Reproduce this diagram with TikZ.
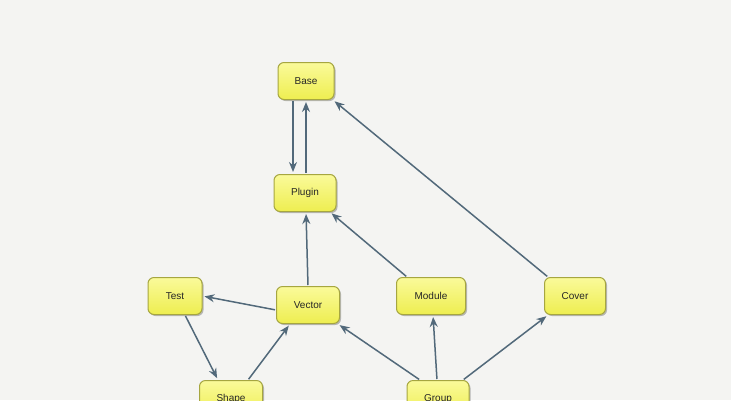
\documentclass[tikz,border=0pt]{standalone}
\usepackage{fontspec}
\setmainfont{Liberation Sans}
\usetikzlibrary{arrows.meta,shadows}
\definecolor{bg}{HTML}{F4F4F2}
\definecolor{nodetop}{HTML}{FAFA9A}
\definecolor{nodebot}{HTML}{EEEE50}
\definecolor{nodeborder}{HTML}{A6A640}
\definecolor{edgec}{HTML}{52697A}
\tikzset{
  box/.style={draw=nodeborder, line width=1pt, rounded corners=6pt,
    top color=nodetop, bottom color=nodebot, minimum height=37pt,
    inner sep=0pt, font=\fontsize{10}{12}\selectfont, text=black!85,
    drop shadow={shadow xshift=1.5pt, shadow yshift=-1.5pt, opacity=0.25, fill=black}},
  conn/.style={draw=edgec, line width=1.5pt, -{Stealth[length=10pt,width=8pt]}, shorten >=2pt, shorten <=1pt}
}
\begin{document}
\begin{tikzpicture}[x=1pt,y=-1pt]
\fill[bg] (0,0) rectangle (731,400);
\useasboundingbox (0,0) rectangle (731,400);
\node[box, minimum width=56pt] (base) at (306,81) {Base};
\node[box, minimum width=62pt] (plugin) at (305,193) {Plugin};
\node[box, minimum width=54pt] (test) at (175,296) {Test};
\node[box, minimum width=63pt] (vector) at (308,305) {Vector};
\node[box, minimum width=69pt] (module) at (431,296) {Module};
\node[box, minimum width=61pt] (cover) at (575,296) {Cover};
\node[box, minimum width=63pt] (shape) at (231,399) {Shape};
\node[box, minimum width=62pt] (group) at (438,399) {Group};
\draw[conn] ([xshift=-13pt]base.south) -- ([xshift=-12pt]plugin.north);
\draw[conn] ([xshift=1pt]plugin.north) -- ([xshift=0pt]base.south);
\draw[conn] ([xshift=-27pt]cover.north) -- ([xshift=27pt,yshift=0pt]base.south);
\draw[conn] ([xshift=-24pt]module.north) -- ([xshift=25pt]plugin.south);
\draw[conn] (vector.north) -- ([xshift=1pt]plugin.south);
\draw[conn] ([yshift=-5pt]vector.west) -- (test.east);
\draw[conn] ([xshift=10pt]test.south) -- ([xshift=-13pt]shape.north);
\draw[conn] ([xshift=17pt]shape.north) -- ([xshift=-18pt]vector.south);
\draw[conn] ([xshift=-18pt]group.north) -- ([xshift=30pt]vector.south);
\draw[conn] ([xshift=-1pt]group.north) -- ([xshift=2pt]module.south);
\draw[conn] ([xshift=25pt]group.north) -- ([xshift=-27pt]cover.south);
\end{tikzpicture}
\end{document}
